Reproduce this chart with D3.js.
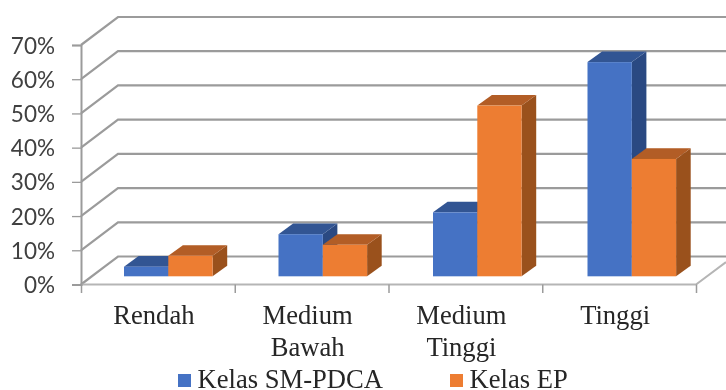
<!DOCTYPE html>
<html><head><meta charset="utf-8">
<script src="https://cdn.jsdelivr.net/npm/d3@7"></script>
<style>
html,body{margin:0;padding:0;background:#fff;overflow:hidden}
svg{display:block}
.ytick{font-family:Lato,"Open Sans",sans-serif;font-size:22.5px;fill:#404040}
.serif{font-family:"Liberation Serif",serif;font-size:26.6px;fill:#262626}
</style></head><body>
<svg id="c" width="726" height="390"></svg>
<script>
const categories = [["Rendah"],["Medium","Bawah"],["Medium","Tinggi"],["Tinggi"]];
const seriesNames = ["Kelas SM-PDCA","Kelas EP"];
const smPdca = [2.8,12.3,18.7,62.6];
const kelasEp = [6,9.2,49.9,34.3];
const yTicks = [0,10,20,30,40,50,60,70];
const colors = {front:["#4472c4","#ed7d31"],top:["#335593","#b25d25"],side:["#2a4a82","#9a511d"]};

const W=726,H=390;
const svg=d3.select("#c");
const defs=svg.append("defs");
defs.append("filter").attr("id","soft").attr("x","-5%").attr("y","-5%").attr("width","110%").attr("height","110%")
  .append("feGaussianBlur").attr("stdDeviation",0.45);
const g=svg.append("g").attr("filter","url(#soft)");

const left=81,right=696,wallDx=37,wallDy=-28;
const y=d3.scaleLinear().domain([0,70]).range([284.5,45]);
const x0=d3.scaleBand().domain(d3.range(categories.length)).range([left,right]);
const barBand=d3.scaleBand().domain(d3.range(categories.length)).range([left,699]);
const x1=d3.scaleBand().domain(seriesNames).range([43,131.6]);
const tickX=d3.scaleLinear().domain([0,4]).range([left,right]);
const barDx=14.6,barDy=-10.6,barLift=-8.2;
const grey="#9b9b9b";

// gridlines: back wall + left side wall
g.append("g").selectAll("path").data(yTicks).join("path")
  .attr("fill","none").attr("stroke",grey).attr("stroke-width",2.2)
  .attr("d",d=>d3.line()([[left,y(d)],[left+wallDx,y(d)+wallDy],[W,y(d)+wallDy]]));

// floor front edge, right diagonal
g.append("path").attr("fill","none").attr("stroke","#b5b5b5").attr("stroke-width",2)
  .attr("d",d3.line()([[left,y(0)],[right,y(0)],[W,y(0)+wallDy*0.8]]));

// y axis
const yAxis=g.append("g").attr("transform",`translate(${left},0)`)
  .call(d3.axisLeft(y).tickValues(yTicks).tickSize(9).tickFormat(d=>d+"%"));
yAxis.select(".domain").attr("stroke",grey).attr("stroke-width",2);
yAxis.selectAll(".tick line").attr("stroke",grey).attr("stroke-width",1.3);
yAxis.selectAll(".tick text").attr("class","ytick").attr("x",-26).attr("dy","0.36em").attr("font-family",null).attr("font-size",null).attr("fill",null);

// x ticks
const xAxis=g.append("g").attr("transform",`translate(0,${y(0)})`)
  .call(d3.axisBottom(tickX).tickValues([0,1,2,3,4]).tickSize(8.5).tickFormat(""));
xAxis.select(".domain").remove();
xAxis.selectAll(".tick line").attr("stroke",grey).attr("stroke-width",1.5);

// bars
const valuesBySeries=[smPdca,kelasEp];
const bars=g.append("g");
categories.forEach((c,ci)=>{
  seriesNames.forEach((s,si)=>{
    const v=valuesBySeries[si][ci];
    const xa=barBand(ci)+x1(s),w=x1.bandwidth();
    const yb=y(0)+barLift,yt=y(v)+barLift;
    const b=bars.append("g");
    b.append("polygon").attr("fill",colors.side[si])
      .attr("points",[[xa+w,yt],[xa+w+barDx,yt+barDy],[xa+w+barDx,yb+barDy],[xa+w,yb]].join(" "));
    b.append("polygon").attr("fill",colors.top[si])
      .attr("points",[[xa,yt],[xa+barDx,yt+barDy],[xa+w+barDx,yt+barDy],[xa+w,yt]].join(" "));
    b.append("rect").attr("x",xa).attr("y",yt).attr("width",w).attr("height",yb-yt).attr("fill",colors.front[si]);
  });
});

// category labels
const labels=g.append("g");
categories.forEach((lines,i)=>{
  const t=labels.append("text").attr("class","serif").attr("text-anchor","middle");
  lines.forEach((l,j)=>t.append("tspan").attr("x",x0(i)+x0.bandwidth()/2-4).attr("y",324+j*32).text(l));
});

// legend
const legX=[178,450];
const leg=g.append("g");
seriesNames.forEach((s,i)=>{
  leg.append("rect").attr("x",legX[i]).attr("y",374).attr("width",13).attr("height",13).attr("fill",colors.front[i]);
  leg.append("text").attr("class","serif").attr("x",legX[i]+19.5).attr("y",388).text(s);
});
</script></body></html>
